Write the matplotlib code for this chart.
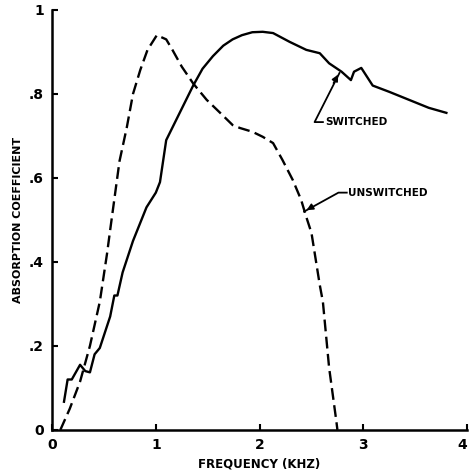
# Absorption coefficient vs frequency, switched / unswitched
import matplotlib
matplotlib.use("Agg")
import matplotlib.pyplot as plt

# switched (solid) curve
sw_freq = [0.115, 0.15, 0.19, 0.27, 0.32, 0.365, 0.41, 0.46, 0.56, 0.6, 0.63, 0.68,
           0.78, 0.91, 1.0, 1.04, 1.07, 1.1, 1.23, 1.36, 1.45, 1.55, 1.65, 1.74, 1.83,
           1.93, 2.03, 2.13, 2.29, 2.45, 2.58, 2.67, 2.79, 2.88, 2.91, 2.98, 3.09,
           3.25, 3.44, 3.63, 3.8]
sw_abs = [0.067, 0.12, 0.12, 0.155, 0.14, 0.137, 0.18, 0.195, 0.27, 0.32, 0.32, 0.375,
          0.45, 0.53, 0.565, 0.59, 0.64, 0.69, 0.755, 0.82, 0.86, 0.89, 0.915, 0.93, 0.94,
          0.947, 0.948, 0.945, 0.924, 0.905, 0.897, 0.873, 0.853, 0.833, 0.853, 0.862,
          0.82, 0.805, 0.786, 0.767, 0.755]

# unswitched (dashed) curve
un_freq = [0.08, 0.17, 0.27, 0.365, 0.46, 0.53, 0.56, 0.65, 0.72, 0.78, 0.85, 0.92,
           1.01, 1.1, 1.16, 1.25, 1.36, 1.49, 1.62, 1.74, 1.81, 1.93, 2.03, 2.13,
           2.22, 2.32, 2.4, 2.45, 2.5, 2.58, 2.61, 2.67, 2.74, 2.75]
un_abs = [0.0, 0.05, 0.115, 0.2, 0.305, 0.42, 0.476, 0.64, 0.72, 0.8, 0.857, 0.905,
          0.94, 0.93, 0.905, 0.865, 0.825, 0.786, 0.755, 0.726, 0.719, 0.71, 0.698, 0.683,
          0.643, 0.595, 0.548, 0.507, 0.469, 0.345, 0.305, 0.148, 0.02, 0.0]

xticks = [0, 1, 2, 3, 4]
xlabels = ["0", "1", "2", "3", "4"]
yticks = [0, 0.2, 0.4, 0.6, 0.8, 1.0]
ylabels = ["0", ".2", ".4", ".6", ".8", "1"]

fig = plt.figure(figsize=(4.69, 4.75), dpi=100)
ax = fig.add_axes([0.111, 0.095, 0.885, 0.884])

ax.plot(sw_freq, sw_abs, color="black", lw=1.7)
ax.plot(un_freq, un_abs, color="black", lw=1.7, dashes=(5, 2.3))

ax.set_xlim(0, 4)
ax.set_ylim(0, 1)
ax.spines["top"].set_visible(False)
ax.spines["right"].set_visible(False)
ax.spines["left"].set_linewidth(1.8)
ax.spines["bottom"].set_linewidth(1.8)
ax.set_xticks(xticks)
ax.set_xticklabels(xlabels, fontsize=10, fontweight="bold")
ax.get_xticklabels()[-1].set_ha("right")  # last label sits at the figure edge
ax.set_yticks(yticks)
ax.set_yticklabels(ylabels, fontsize=10, fontweight="bold")
ax.tick_params(direction="in", length=4, width=1.5, pad=6)

ax.set_xlabel("FREQUENCY (KHZ)", fontsize=8.5, fontweight="bold", labelpad=4)
ax.set_ylabel("ABSORPTION COEFFICIENT", fontsize=8, fontweight="bold", labelpad=4)

# annotations
ax.plot([2.61, 2.53, 2.77], [0.733, 0.733, 0.85], color="black", lw=1.3)
ax.annotate("", xy=(2.77, 0.852), xytext=(2.70, 0.82),
            arrowprops=dict(arrowstyle="-|>", color="black", lw=1.3, mutation_scale=9))
ax.text(2.63, 0.733, "SWITCHED", fontsize=7.5, fontweight="bold", va="center")

ax.plot([2.84, 2.76, 2.43], [0.565, 0.565, 0.52], color="black", lw=1.3)
ax.annotate("", xy=(2.43, 0.52), xytext=(2.52, 0.533),
            arrowprops=dict(arrowstyle="-|>", color="black", lw=1.3, mutation_scale=9))
ax.text(2.85, 0.565, "UNSWITCHED", fontsize=7.5, fontweight="bold", va="center")

fig.savefig("out.png", dpi=100)
